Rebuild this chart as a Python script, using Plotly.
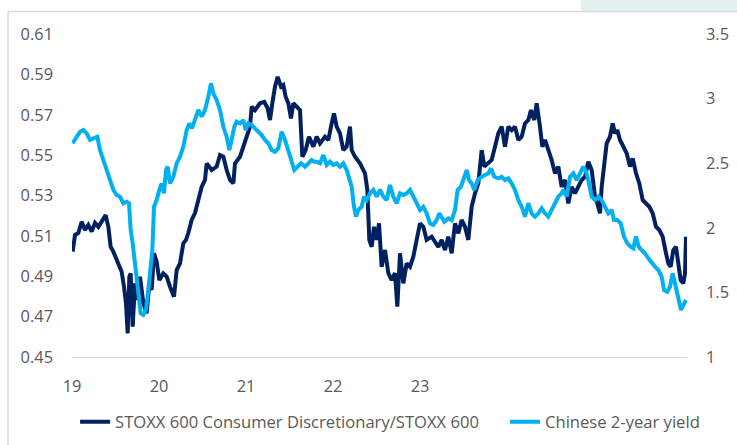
import plotly.graph_objects as go

# x positions are observation (business-day) indices; axis labels every 261 observations
tick_pos = [0, 261, 522, 783, 1044]
tick_labels = ["19", "20", "21", "22", "23"]

ratio_x = [2, 9, 19, 29, 39, 49, 59, 69, 79, 89, 101, 109, 116, 124, 132, 139, 149, 156, 162, 167,
           172, 176, 182, 189, 196, 204, 214, 224, 232, 239, 246, 254, 262, 274, 284, 294, 306, 314, 324, 334,
           342, 349, 359, 369, 379, 389, 399, 404, 419, 434, 444, 454, 464, 474, 484, 489, 504, 519, 534, 539,
           549, 564, 577, 587, 594, 601, 609, 617, 627, 634, 641, 649, 657, 664, 674, 684, 691, 701, 711, 724,
           734, 744, 759, 769, 779, 786, 794, 804, 814, 824, 834, 839, 849, 864, 879, 886, 892, 899, 906, 914,
           921, 929, 939, 949, 959, 969, 976, 984, 994, 1004, 1014, 1024, 1034, 1044, 1054, 1064, 1079, 1094, 1099, 1109,
           1119, 1129, 1139, 1149, 1159, 1169, 1179, 1189, 1199, 1209, 1219, 1229, 1237, 1247, 1259, 1269, 1279, 1289, 1299, 1309,
           1319, 1329, 1339, 1349, 1359, 1369, 1377, 1387, 1394, 1404, 1411, 1419, 1429, 1439, 1449, 1459, 1469, 1479, 1489, 1499,
           1509, 1519, 1529, 1539, 1549, 1559, 1569, 1576, 1584, 1589, 1596, 1604, 1614, 1622, 1629, 1636, 1644, 1654, 1664, 1674,
           1682, 1692, 1702, 1712, 1722, 1732, 1742, 1752, 1762, 1772, 1782, 1789, 1796, 1804, 1812, 1819, 1826, 1834, 1839, 1842]
ratio = [0.5022, 0.5104, 0.5114, 0.5170, 0.5129, 0.5154, 0.5121, 0.5164, 0.5145, 0.5170, 0.5203, 0.5145, 0.5046, 0.5022, 0.4989, 0.4956, 0.4922, 0.4848, 0.4766, 0.4617,
         0.4898, 0.4914, 0.4650, 0.4865, 0.4782, 0.4898, 0.4766, 0.4716, 0.4865, 0.4832, 0.5014, 0.4972, 0.4881, 0.4914, 0.4898, 0.4848, 0.4799, 0.4931, 0.4964, 0.5063,
         0.5080, 0.5114, 0.5179, 0.5213, 0.5278, 0.5343, 0.5377, 0.5459, 0.5426, 0.5443, 0.5500, 0.5492, 0.5426, 0.5377, 0.5360, 0.5459, 0.5492, 0.5575, 0.5641, 0.5740,
         0.5723, 0.5757, 0.5764, 0.5732, 0.5674, 0.5757, 0.5839, 0.5888, 0.5839, 0.5847, 0.5789, 0.5757, 0.5682, 0.5757, 0.5740, 0.5723, 0.5492, 0.5525, 0.5591, 0.5542,
         0.5591, 0.5558, 0.5591, 0.5575, 0.5657, 0.5707, 0.5641, 0.5608, 0.5525, 0.5542, 0.5641, 0.5525, 0.5492, 0.5459, 0.5410, 0.5327, 0.5080, 0.5046, 0.5145, 0.5080,
         0.5162, 0.4947, 0.5030, 0.4915, 0.4881, 0.4915, 0.4749, 0.5014, 0.4865, 0.4964, 0.4947, 0.4997, 0.5080, 0.5162, 0.5145, 0.5080, 0.5096, 0.5063, 0.5046, 0.5080,
         0.5030, 0.5096, 0.5014, 0.5162, 0.5113, 0.5179, 0.5145, 0.5080, 0.5244, 0.5311, 0.5360, 0.5525, 0.5443, 0.5459, 0.5476, 0.5542, 0.5608, 0.5641, 0.5542, 0.5641,
         0.5624, 0.5641, 0.5575, 0.5591, 0.5657, 0.5674, 0.5723, 0.5674, 0.5757, 0.5641, 0.5542, 0.5575, 0.5525, 0.5476, 0.5410, 0.5443, 0.5343, 0.5377, 0.5261, 0.5343,
         0.5311, 0.5343, 0.5377, 0.5393, 0.5467, 0.5426, 0.5294, 0.5261, 0.5212, 0.5343, 0.5443, 0.5558, 0.5591, 0.5657, 0.5608, 0.5624, 0.5575, 0.5542, 0.5509, 0.5443,
         0.5484, 0.5410, 0.5360, 0.5278, 0.5261, 0.5244, 0.5212, 0.5145, 0.5129, 0.5096, 0.5014, 0.4964, 0.4947, 0.5030, 0.5046, 0.4964, 0.4881, 0.4865, 0.4915, 0.5096]

yield_x = [2, 14, 24, 34, 44, 54, 64, 76, 84, 94, 104, 114, 124, 134, 144, 154, 164, 171, 176, 182,
           189, 196, 202, 206, 214, 222, 229, 236, 241, 246, 254, 262, 269, 276, 282, 287, 294, 304, 314, 324,
           334, 344, 352, 360, 369, 379, 389, 399, 409, 417, 424, 434, 444, 454, 464, 472, 479, 487, 494, 504,
           514, 521, 529, 539, 549, 559, 569, 579, 589, 599, 609, 619, 629, 639, 649, 659, 667, 677, 687, 699,
           709, 719, 727, 734, 744, 754, 764, 774, 784, 794, 804, 814, 824, 832, 839, 846, 852, 859, 869, 876,
           884, 894, 904, 914, 924, 934, 944, 954, 964, 974, 984, 994, 1004, 1014, 1024, 1034, 1044, 1054, 1064, 1074,
           1084, 1094, 1102, 1117, 1129, 1139, 1149, 1157, 1167, 1177, 1184, 1191, 1199, 1207, 1217, 1229, 1239, 1249, 1257, 1267,
           1279, 1289, 1299, 1309, 1319, 1329, 1339, 1349, 1359, 1369, 1379, 1389, 1399, 1409, 1419, 1429, 1439, 1449, 1459, 1469,
           1474, 1484, 1494, 1504, 1514, 1524, 1534, 1542, 1549, 1559, 1569, 1579, 1589, 1599, 1609, 1619, 1626, 1636, 1646, 1656,
           1666, 1676, 1684, 1692, 1700, 1709, 1719, 1729, 1739, 1749, 1759, 1769, 1776, 1786, 1794, 1802, 1809, 1816, 1822, 1827,
           1834, 1842]
cn_yield = [2.654, 2.705, 2.744, 2.757, 2.731, 2.680, 2.693, 2.705, 2.602, 2.525, 2.447, 2.370, 2.293, 2.254, 2.241, 2.190, 2.202, 2.190, 1.983, 1.880,
            1.725, 1.570, 1.441, 1.338, 1.325, 1.364, 1.519, 1.725, 1.828, 2.163, 2.215, 2.293, 2.344, 2.267, 2.447, 2.473, 2.344, 2.395, 2.499, 2.550,
            2.628, 2.757, 2.808, 2.770, 2.847, 2.912, 2.860, 2.912, 3.015, 3.118, 3.041, 2.989, 2.912, 2.782, 2.705, 2.602, 2.680, 2.782, 2.821, 2.808,
            2.834, 2.757, 2.808, 2.796, 2.770, 2.744, 2.718, 2.680, 2.654, 2.602, 2.589, 2.615, 2.744, 2.680, 2.602, 2.525, 2.447, 2.473, 2.499, 2.473,
            2.499, 2.525, 2.512, 2.512, 2.499, 2.563, 2.486, 2.512, 2.486, 2.499, 2.473, 2.499, 2.447, 2.370, 2.318, 2.163, 2.086, 2.138, 2.163, 2.241,
            2.215, 2.267, 2.293, 2.241, 2.293, 2.241, 2.215, 2.331, 2.241, 2.190, 2.267, 2.254, 2.267, 2.293, 2.241, 2.190, 2.138, 2.163, 2.112, 2.035,
            2.022, 2.060, 2.112, 2.047, 2.073, 2.060, 2.138, 2.293, 2.318, 2.395, 2.447, 2.370, 2.344, 2.293, 2.370, 2.395, 2.408, 2.421, 2.460, 2.395,
            2.383, 2.395, 2.370, 2.383, 2.344, 2.293, 2.215, 2.163, 2.086, 2.190, 2.112, 2.086, 2.112, 2.151, 2.112, 2.086, 2.138, 2.190, 2.241, 2.267,
            2.293, 2.241, 2.395, 2.421, 2.370, 2.421, 2.473, 2.434, 2.370, 2.241, 2.215, 2.241, 2.215, 2.163, 2.112, 2.138, 2.060, 2.060, 2.035, 1.932,
            1.880, 1.854, 1.841, 1.932, 1.854, 1.828, 1.803, 1.764, 1.725, 1.699, 1.673, 1.622, 1.519, 1.505, 1.544, 1.647, 1.570, 1.493, 1.441, 1.364,
            1.402, 1.441]

left_ticks = [0.45, 0.47, 0.49, 0.51, 0.53, 0.55, 0.57, 0.59, 0.61]
right_ticks = [1, 1.5, 2, 2.5, 3, 3.5]

DARK = "#002060"
LIGHT = "#00B0F0"
TXT = "#595959"
FONT = "Open Sans"

fig = go.Figure()
fig.add_trace(go.Scatter(x=ratio_x, y=ratio, mode="lines", yaxis="y",
                         name="STOXX 600 Consumer Discretionary/STOXX 600",
                         line=dict(color=DARK, width=4), legend="legend"))
fig.add_trace(go.Scatter(x=yield_x, y=cn_yield, mode="lines", yaxis="y2",
                         name="Chinese 2-year yield",
                         line=dict(color=LIGHT, width=4), legend="legend2"))

legend_common = dict(orientation="h", xanchor="left", xref="paper",
                     yref="container", y=(445 - 422) / 445, yanchor="middle",
                     font=dict(family=FONT, size=16.6, color=TXT), itemwidth=30,
                     bgcolor="rgba(0,0,0,0)")

fig.update_layout(
    width=737, height=445,
    margin=dict(l=72, r=50, t=34, b=88, autoexpand=False),
    paper_bgcolor="white", plot_bgcolor="white",
    font=dict(family=FONT, size=16, color=TXT),
    showlegend=True,
    legend=dict(x=0.005, **legend_common),
    legend2=dict(x=(505 - 72) / 615, **legend_common),
    xaxis=dict(range=[0, 1845], tickmode="array", tickvals=tick_pos, ticktext=tick_labels,
               showgrid=False, zeroline=False, showline=True, linecolor="#D9D9D9", linewidth=1,
               ticks="", ticklabelstandoff=14, tickfont=dict(size=16.4, color=TXT)),
    yaxis=dict(range=[0.45, 0.61], tickmode="array", tickvals=left_ticks,
               ticktext=[f"{v:.2f}" for v in left_ticks],
               showgrid=False, zeroline=False, showline=False, ticks="",
               ticklabelstandoff=18, tickfont=dict(size=16.4, color=TXT)),
    yaxis2=dict(range=[1, 3.5], overlaying="y", side="right", tickmode="array",
                tickvals=right_ticks, ticktext=[f"{v:g}" for v in right_ticks],
                showgrid=False, zeroline=False, showline=False, ticks="",
                ticklabelstandoff=18, tickfont=dict(size=16.4, color=TXT)),
    shapes=[
        dict(type="rect", xref="paper", yref="paper", x0=(581 - 72) / 615, x1=(740 - 72) / 615,
             y0=(357 - 11) / 323, y1=(357 + 2) / 323, fillcolor="#E4F1F1", line=dict(width=0), layer="below"),
        dict(type="line", xref="paper", yref="paper", x0=(8 - 72) / 615, x1=(740 - 72) / 615,
             y0=(357 - 11.5) / 323, y1=(357 - 11.5) / 323, line=dict(color="#D9D9D9", width=1.5)),
        dict(type="line", xref="paper", yref="paper", x0=(8 - 72) / 615, x1=(8 - 72) / 615,
             y0=(357 - 11.5) / 323, y1=(357 - 450) / 323, line=dict(color="#D9D9D9", width=1.5)),
    ],
)

fig.write_html("out.html")
